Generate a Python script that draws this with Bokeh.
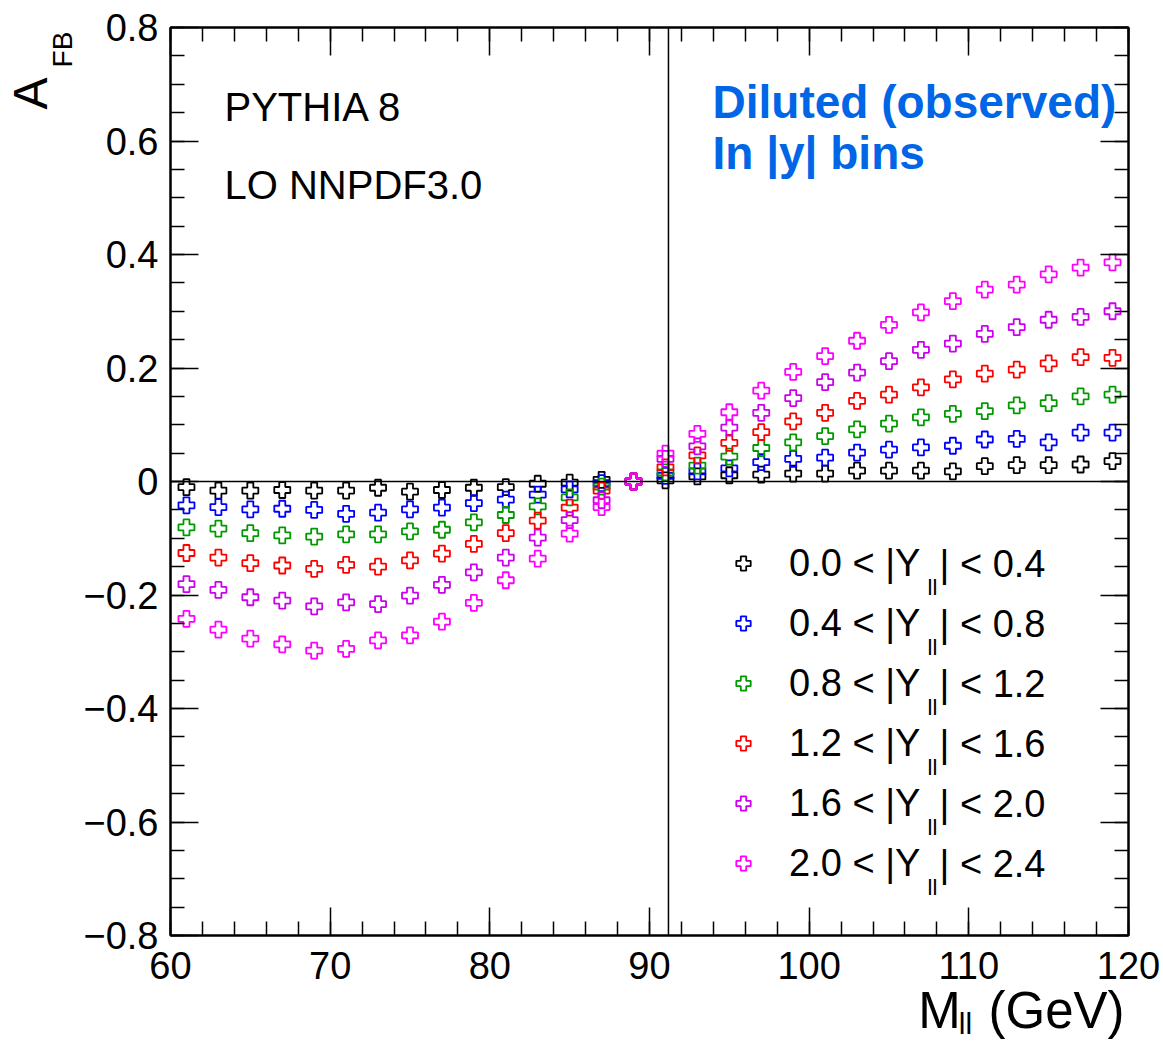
import math
from bokeh.plotting import figure
from bokeh.models import (Span, Label, Legend, LegendItem, LinearAxis, FixedTicker,
                          SingleIntervalTicker, CustomJSTickFormatter, Range1d)
from bokeh.embed import file_html
from bokeh.resources import INLINE

# ---------------- data ----------------
mass = [61, 63, 65, 67, 69, 71, 73, 75, 77, 79, 81, 83, 85, 87, 89,
        91, 93, 95, 97, 99, 101, 103, 105, 107, 109, 111, 113, 115, 117, 119]

afb_00_04 = [-0.010, -0.016, -0.016, -0.015, -0.016, -0.016, -0.011, -0.018, -0.015, -0.011,
             -0.010, -0.004, -0.002, 0.003, 0.000, 0.002, 0.009, 0.011, 0.012, 0.014,
             0.014, 0.019, 0.019, 0.019, 0.018, 0.027, 0.029, 0.029, 0.030, 0.036]
afb_04_08 = [-0.042, -0.045, -0.049, -0.048, -0.050, -0.057, -0.055, -0.049, -0.046, -0.038,
             -0.032, -0.023, -0.014, -0.003, 0.000, 0.010, 0.018, 0.023, 0.034, 0.040,
             0.042, 0.051, 0.056, 0.060, 0.063, 0.074, 0.075, 0.069, 0.086, 0.086]
afb_08_12 = [-0.081, -0.083, -0.091, -0.095, -0.097, -0.093, -0.093, -0.088, -0.085, -0.072,
             -0.059, -0.044, -0.028, -0.009, 0.000, 0.016, 0.028, 0.044, 0.059, 0.069,
             0.080, 0.092, 0.102, 0.113, 0.119, 0.124, 0.134, 0.138, 0.150, 0.153]
afb_12_16 = [-0.126, -0.134, -0.144, -0.148, -0.154, -0.147, -0.150, -0.139, -0.127, -0.110,
             -0.091, -0.069, -0.046, -0.016, 0.000, 0.025, 0.046, 0.068, 0.087, 0.106,
             0.121, 0.142, 0.153, 0.166, 0.180, 0.190, 0.197, 0.208, 0.219, 0.218]
afb_16_20 = [-0.181, -0.191, -0.204, -0.210, -0.220, -0.213, -0.216, -0.201, -0.182, -0.160,
             -0.134, -0.099, -0.068, -0.033, 0.000, 0.040, 0.062, 0.095, 0.121, 0.147,
             0.175, 0.192, 0.212, 0.232, 0.243, 0.260, 0.272, 0.285, 0.290, 0.300]
afb_20_24 = [-0.242, -0.261, -0.277, -0.287, -0.298, -0.295, -0.280, -0.271, -0.247, -0.214,
             -0.174, -0.136, -0.092, -0.045, 0.000, 0.049, 0.084, 0.122, 0.160, 0.193,
             0.221, 0.248, 0.276, 0.298, 0.318, 0.338, 0.347, 0.365, 0.377, 0.386]

bin_lo = ["0.0", "0.4", "0.8", "1.2", "1.6", "2.0"]
bin_hi = ["0.4", "0.8", "1.2", "1.6", "2.0", "2.4"]
series = [afb_00_04, afb_04_08, afb_08_12, afb_12_16, afb_16_20, afb_20_24]
colors = ["#000000", "#0000ff", "#009a00", "#ff0000", "#cc00ee", "#ff00ff"]

MZ = 91.1876
x_range = (60, 120)
y_range = (-0.8, 0.8)

FONT = "Liberation Sans"

# ---------------- layout ----------------
LEFT, RIGHT, TOP, BOTTOM = 170, 35, 27, 117
W, H = 1163, 1052
FRAME_L = LEFT
FRAME_R = W - RIGHT
FRAME_T = TOP
FRAME_B = H - BOTTOM


def px_to_x(px):
    return x_range[0] + (px - FRAME_L) * (x_range[1] - x_range[0]) / (FRAME_R - FRAME_L)


def py_to_y(py):
    return y_range[0] + (FRAME_B - py) * (y_range[1] - y_range[0]) / (FRAME_B - FRAME_T)


p = figure(width=W, height=H, output_backend="svg", toolbar_location=None,
           x_range=Range1d(*x_range), y_range=Range1d(*y_range),
           min_border_left=LEFT, min_border_right=RIGHT,
           min_border_top=TOP, min_border_bottom=BOTTOM,
           x_axis_type=None, y_axis_type=None)
p.xgrid.visible = False
p.ygrid.visible = False
p.outline_line_color = "black"
p.outline_line_width = 2
p.background_fill_color = "white"
p.border_fill_color = "white"

fmt_x = CustomJSTickFormatter(code="return tick.toFixed(0);")
fmt_y = CustomJSTickFormatter(code="""
if (Math.abs(tick) < 1e-9) return '0';
const s = Math.abs(tick).toFixed(1);
return tick < 0 ? '\u2212' + s : s;
""")
fmt_none = CustomJSTickFormatter(code="return '';")


def style_axis(ax, ticker, fmt, show, standoff=12):
    ax.ticker = ticker
    ax.formatter = fmt
    ax.axis_line_color = "black"
    ax.axis_line_width = 2
    ax.major_tick_in = 28
    ax.major_tick_out = 0
    ax.minor_tick_in = 14
    ax.minor_tick_out = 0
    ax.major_tick_line_width = 1.5
    ax.minor_tick_line_width = 1.5
    ax.major_tick_line_color = "black"
    ax.minor_tick_line_color = "black"
    ax.major_label_text_font = FONT
    ax.major_label_text_font_size = "38px" if show else "1px"
    ax.major_label_text_color = "black"
    ax.major_label_standoff = standoff


def xt():
    return SingleIntervalTicker(interval=10, num_minor_ticks=5)


def yt():
    return SingleIntervalTicker(interval=0.2, num_minor_ticks=4)


def title_axis(positions, labels, size, standoff, orientation=None):
    ax = LinearAxis(ticker=FixedTicker(ticks=positions, minor_ticks=[]),
                    formatter=CustomJSTickFormatter(args=dict(labels=labels),
                                                    code="return labels[index];"))
    ax.axis_line_color = None
    ax.major_tick_line_color = None
    ax.minor_tick_line_color = None
    ax.major_tick_in = 0
    ax.major_tick_out = 0
    ax.minor_tick_in = 0
    ax.minor_tick_out = 0
    ax.major_label_text_font = FONT
    ax.major_label_text_font_size = size
    ax.major_label_text_color = "black"
    ax.major_label_standoff = standoff
    if orientation is not None:
        ax.major_label_orientation = orientation
    return ax


ax_b = LinearAxis()
style_axis(ax_b, xt(), fmt_x, True, standoff=16)
p.add_layout(ax_b, "below")
ax_t = LinearAxis()
style_axis(ax_t, xt(), fmt_none, False)
p.add_layout(ax_t, "above")
ax_l = LinearAxis()
style_axis(ax_l, yt(), fmt_y, True)
p.add_layout(ax_l, "left")
ax_r = LinearAxis()
style_axis(ax_r, yt(), fmt_none, False)
p.add_layout(ax_r, "right")

# x-axis title: "M" + subscript "ll" + "(GeV)"
p.add_layout(title_axis([px_to_x(939), px_to_x(1056)], ["M", "(GeV)"], "51px", 0), "below")
p.add_layout(title_axis([px_to_x(965)], ["ll"], "30px", -35), "below")
# y-axis title: "A" + subscript "FB" (rotated, reading upwards)
p.add_layout(title_axis([py_to_y(49)], ["FB"], "28px", 3, "vertical"), "left")
p.add_layout(title_axis([py_to_y(93)], ["A"], "48px", -13, "vertical"), "left")

p.add_layout(Span(location=0, dimension="width", line_color="black", line_width=1.5))
p.add_layout(Span(location=MZ, dimension="height", line_color="black", line_width=1.5))

renderers = []
for vals, col in zip(series, colors):
    r = p.scatter(mass, vals, marker="plus", size=16, line_color=col,
                  fill_alpha=0, line_width=1.8)
    renderers.append(r)


def sx(x):
    return x - FRAME_L


def sy(y):
    return FRAME_B - y


def add_text(text, x, y, size, color="black", style="normal", align="left"):
    # y is the vertical centre of the text line (canvas pixels from the top)
    p.add_layout(Label(x=sx(x), y=sy(y), x_units="screen", y_units="screen",
                       text=text, text_font=FONT, text_font_size=size,
                       text_color=color, text_font_style=style,
                       text_align=align, text_baseline="middle"))


# legend (markers + first part of text)
ROW0, DY = 563, 60
items = [LegendItem(label=f"{lo} < |Y", renderers=[r])
         for lo, r in zip(bin_lo, renderers)]
leg_height = DY * len(items)
legend = Legend(items=items, location=(sx(725), FRAME_B - (ROW0 - DY / 2 + leg_height)),
                glyph_width=36, glyph_height=DY, spacing=0, padding=0, margin=0,
                label_standoff=28, label_text_font=FONT, label_text_font_size="38px",
                label_text_color="black",
                label_height=DY, background_fill_alpha=0, border_line_alpha=0)
p.add_layout(legend)

for i, hi in enumerate(bin_hi):
    yc = ROW0 + DY * i
    add_text("ll", 927, yc + 24, "22px")
    add_text(f"| < {hi}", 939, yc, "38px")

# annotations
add_text("PYTHIA 8", 224, 106, "40px")
add_text("LO NNPDF3.0", 224, 184, "40px")
add_text("Diluted (observed)", 712, 101, "46px", color="#0066e6", style="bold")
add_text("In |y| bins", 712, 152, "46px", color="#0066e6", style="bold")

open("out.html", "w").write(file_html(p, INLINE))
